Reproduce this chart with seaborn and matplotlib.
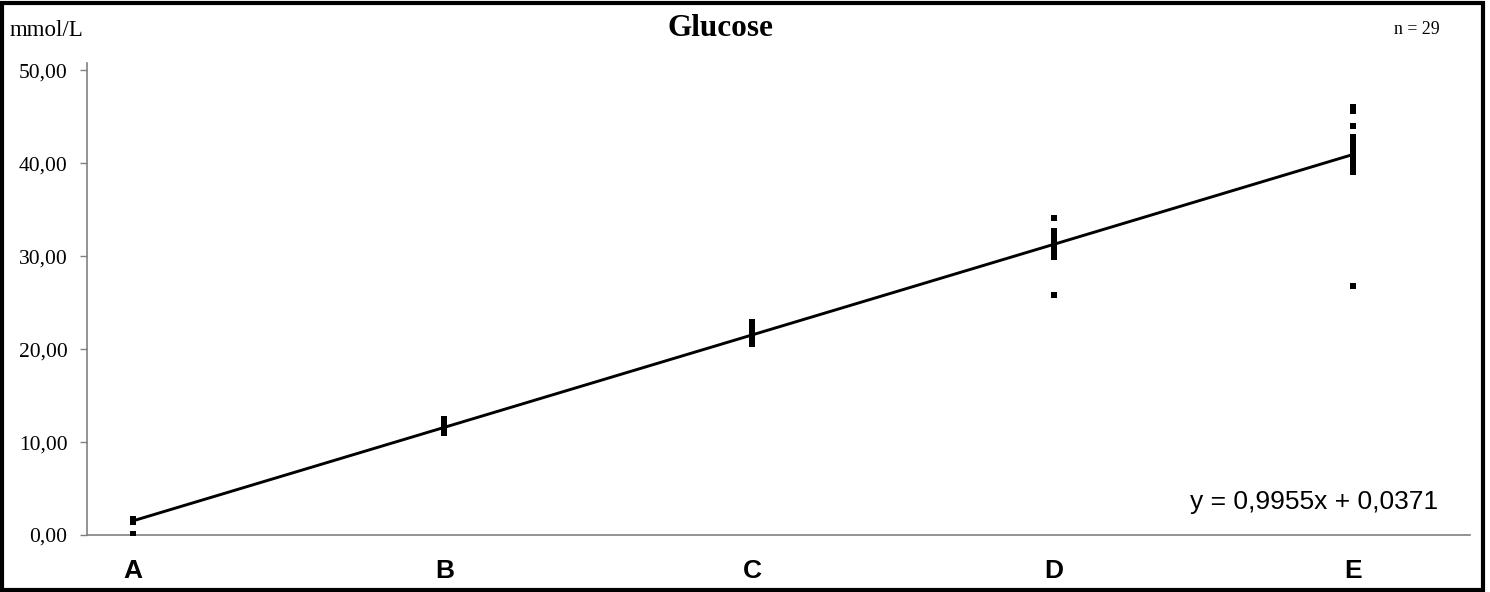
import numpy as np
import pandas as pd
import matplotlib
matplotlib.use('Agg')
import matplotlib.pyplot as plt
import seaborn as sns

# niveaux et concentrations cibles
levels = ['A', 'B', 'C', 'D', 'E']
targets = [1.5, 11.6, 21.6, 31.4, 41.1]

# resultats (mmol/L), 29 par niveau
res_A = [1.5, 1.6, 1.5, 1.4, 1.6, 1.5, 1.5, 1.7, 1.5, 1.6, 1.4, 1.5, 1.6, 1.5, 1.5,
         1.6, 1.5, 1.4, 1.5, 1.6, 1.5, 1.7, 1.5, 1.5, 1.6, 1.4, 1.5, 1.6, 0.1]
res_B = [12.5, 12.3, 12.1, 12.0, 11.9, 11.8, 11.8, 11.7, 11.7, 11.6, 11.6, 11.6, 11.5, 11.5, 11.5,
         11.4, 11.4, 11.4, 11.3, 11.3, 11.3, 11.2, 11.2, 11.1, 11.1, 11.6, 11.7, 11.5, 11.0]
res_C = [22.9, 22.7, 22.5, 22.3, 22.2, 22.1, 22.0, 21.9, 21.8, 21.8, 21.7, 21.7, 21.6, 21.6, 21.5,
         21.5, 21.4, 21.4, 21.3, 21.3, 21.2, 21.1, 21.0, 20.9, 20.8, 20.7, 20.6, 21.6, 21.5]
res_D = [34.1, 32.7, 32.5, 32.3, 32.2, 32.0, 31.9, 31.8, 31.7, 31.6, 31.5, 31.4, 31.3, 31.3, 31.2,
         31.1, 31.0, 31.0, 30.9, 30.8, 30.8, 30.7, 30.6, 30.6, 30.5, 31.5, 31.2, 29.9, 25.8]
res_E = [46.1, 45.6, 44.0, 42.8, 42.4, 42.2, 42.0, 41.8, 41.7, 41.5, 41.4, 41.3, 41.2, 41.1, 41.0,
         40.9, 40.8, 40.7, 40.6, 40.5, 40.4, 40.3, 40.1, 40.0, 39.8, 39.6, 39.4, 39.1, 26.8]

slope = 0.9955
intercept = 0.0371
n_labs = 29
y_ticks = [0, 10, 20, 30, 40, 50]

rows = []
for lvl, tgt, vals in zip(levels, targets, [res_A, res_B, res_C, res_D, res_E]):
    for v in vals:
        rows.append({'niveau': lvl, 'cible': tgt, 'resultat': v})
df = pd.DataFrame(rows)

sns.set_style('white')
plt.rcParams['font.family'] = ['Liberation Serif', 'DejaVu Serif']
plt.rcParams['text.color'] = 'black'
plt.rcParams['ytick.labelcolor'] = 'black'

fig = plt.figure(figsize=(14.9, 5.92), dpi=100)
ax = fig.add_axes([87 / 1490, 1 - 535 / 592, (1470 - 87) / 1490, (535 - 63) / 592])

# droite de regression
x_line = np.array([min(targets), max(targets)])
fit = pd.DataFrame({'x': x_line, 'y': slope * x_line + intercept})
sns.lineplot(data=fit, x='x', y='y', color='black', linewidth=2.1, ax=ax)

sns.scatterplot(data=df, x='cible', y='resultat', marker='s', s=14, color='black',
                edgecolor='black', linewidth=0, ax=ax, zorder=3)

ax.set_xlim(0, 44.9)
ax.set_ylim(0, 50.8)
ax.set_yticks(y_ticks)
ax.set_yticklabels([f'{t:.2f}'.replace('.', ',') for t in y_ticks], fontsize=15.5)
ax.set_xticks([])
ax.set_xlabel('')
ax.set_ylabel('')
ax.tick_params(axis='y', length=5, width=1, color='#808080', left=True, pad=9)

for side in ['top', 'right']:
    ax.spines[side].set_visible(False)
ax.spines['left'].set_color('#808080')
ax.spines['bottom'].set_color('#808080')
ax.spines['left'].set_linewidth(1.2)
ax.spines['bottom'].set_linewidth(1.2)

# etiquettes des niveaux
for lvl, tgt in zip(levels, targets):
    ax.text(tgt, -3.9, lvl, ha='center', va='center', fontsize=19, fontweight='bold',
            family=['Liberation Sans', 'DejaVu Sans'])

ax.text(43.85, 3.6, f'y = {slope:.4f}x + {intercept:.4f}'.replace('.', ','),
        ha='right', va='center', fontsize=19, family=['Liberation Sans', 'DejaVu Sans'])

fig.text(720 / 1490, 1 - 28 / 592, 'Glucose', ha='center', va='center', fontsize=22.5, fontweight='bold')
fig.text(10 / 1490, 1 - 31 / 592, 'mmol/L', ha='left', va='center', fontsize=16.5)
fig.text(1440 / 1490, 1 - 29 / 592, f'n = {n_labs}', ha='right', va='center', fontsize=12.8)

# cadre autour du graphique
frame = plt.Rectangle((2 / 1490, 2 / 592), 1481 / 1490, 587 / 592, transform=fig.transFigure,
                      fill=False, edgecolor='black', linewidth=3)
fig.patches.append(frame)

fig.savefig('out.png', dpi=100)
